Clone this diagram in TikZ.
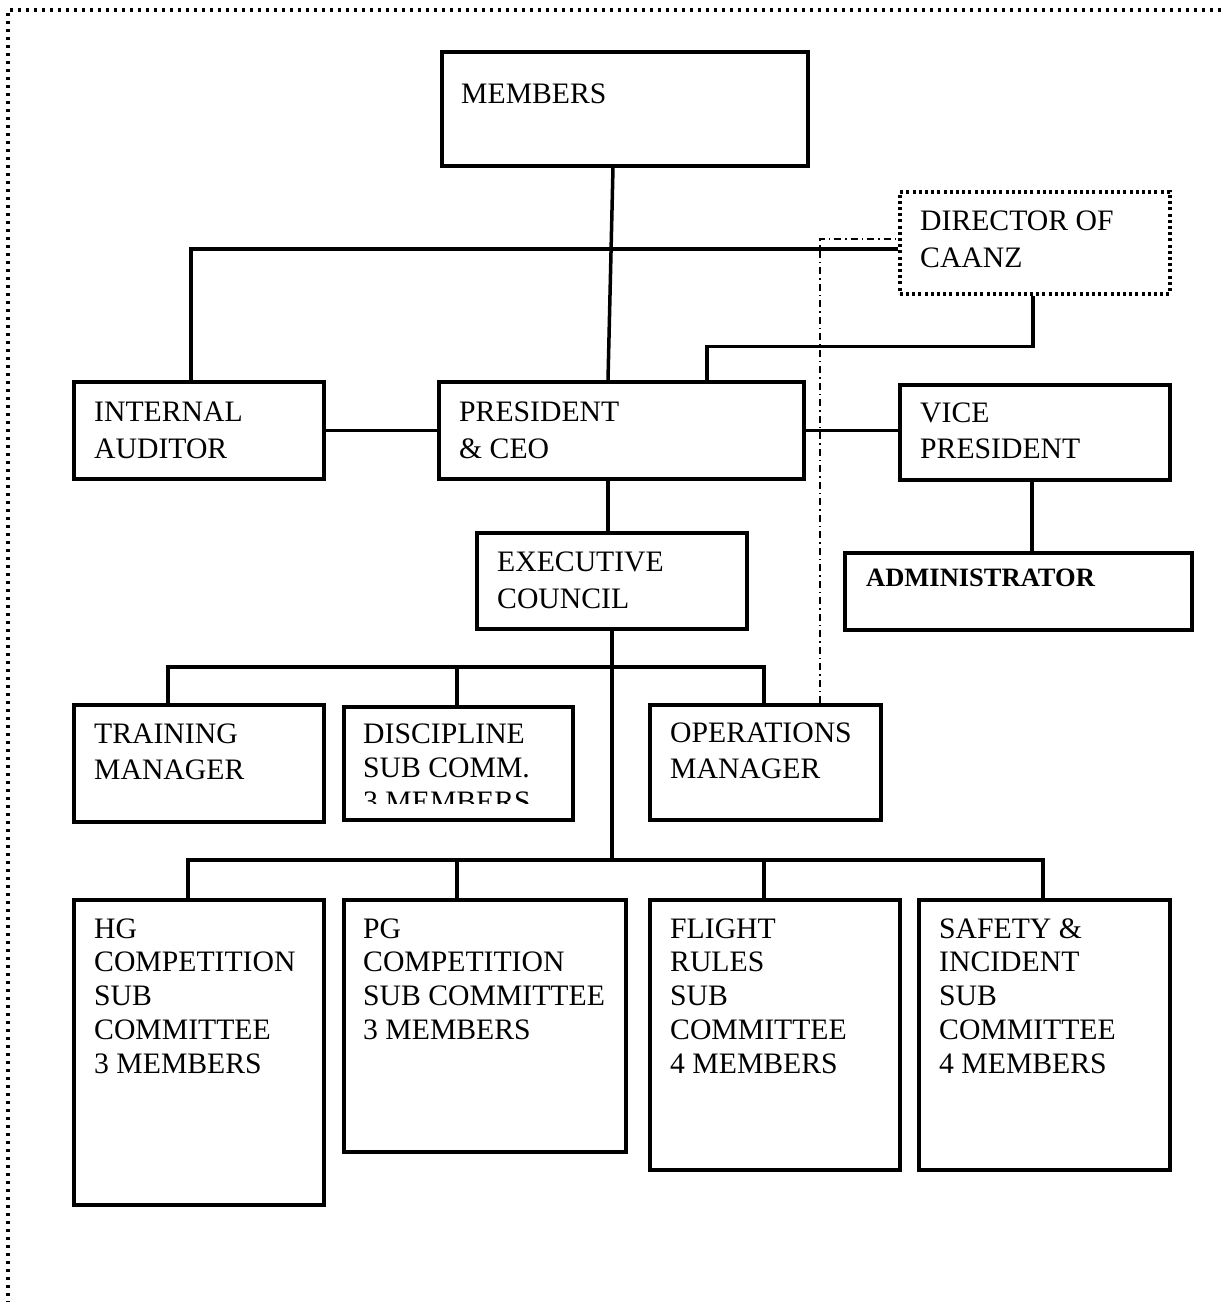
\documentclass[tikz,border=0pt]{standalone}
\usepackage{fontspec}
\setmainfont{Liberation Serif}
\newcommand{\tlines}[2][35pt]{\vtop{\baselineskip=#1\lineskiplimit=-10pt\halign{##\hfil\cr#2\crcr}}}
\begin{document}
\begin{tikzpicture}[x=1pt,y=-1pt,
  box/.style={draw, line width=3.5pt, inner sep=0pt, anchor=north west},
  dotbox/.style={draw, line width=3.5pt, inner sep=0pt, anchor=north west, dash pattern=on 3pt off 3.2pt},
  txt/.style={inner sep=0pt, anchor=base west, font=\fontsize{29.7}{35}\selectfont},
  conn/.style={line width=3.5pt},
  dashdotline/.style={line width=2pt, dash pattern=on 7pt off 4pt on 1.5pt off 4pt},
  pageborder/.style={line width=3.2pt, dash pattern=on 3.2pt off 4.8pt}
]
\useasboundingbox (0,0) rectangle (1221,1302);
\draw[pageborder] (1221,10) -- (8,10) -- (8,1302);

% boxes
\node[box, minimum width=366pt, minimum height=114pt] (members) at (440,50) {};
\node[dotbox, minimum width=270pt, minimum height=102pt] (dir) at (898,190) {};
\node[box, minimum width=250pt, minimum height=97pt] (ia) at (72,380) {};
\node[box, minimum width=365pt, minimum height=97pt] (pres) at (437,380) {};
\node[box, minimum width=270pt, minimum height=95pt] (vp) at (898,383) {};
\node[box, minimum width=347pt, minimum height=77pt] (admin) at (843,551) {};
\node[box, minimum width=270pt, minimum height=96pt] (exec) at (475,531) {};
\node[box, minimum width=250pt, minimum height=117pt] (train) at (72,703) {};
\node[box, minimum width=229pt, minimum height=113pt] (disc) at (342,705) {};
\node[box, minimum width=231pt, minimum height=115pt] (ops) at (648,703) {};
\node[box, minimum width=250pt, minimum height=305pt] (hg) at (72,898) {};
\node[box, minimum width=282pt, minimum height=252pt] (pg) at (342,898) {};
\node[box, minimum width=250pt, minimum height=270pt] (flight) at (648,898) {};
\node[box, minimum width=251pt, minimum height=270pt] (safety) at (917,898) {};

% texts
\node[txt] (members-t) at ([shift={(21,53)}]members.north west) {MEMBERS};
\node[txt] (dir-t) at ([shift={(22,40)}]dir.north west) {\tlines[37pt]{DIRECTOR OF\cr CAANZ}};
\node[txt] (ia-t) at ([shift={(22,41)}]ia.north west) {\tlines[37pt]{INTERNAL\cr AUDITOR}};
\node[txt] (pres-t) at ([shift={(22,41)}]pres.north west) {\tlines[37pt]{PRESIDENT\cr \&~CEO}};
\node[txt] (vp-t) at ([shift={(22,39)}]vp.north west) {\tlines[36pt]{VICE\cr PRESIDENT}};
\node[txt, font=\bfseries\fontsize{26.5}{30}\selectfont] (admin-t) at ([shift={(23,35)}]admin.north west) {ADMINISTRATOR};
\node[txt] (exec-t) at ([shift={(22,40)}]exec.north west) {\tlines[37pt]{EXECUTIVE\cr COUNCIL}};
\node[txt] (train-t) at ([shift={(22,40)}]train.north west) {\tlines[36pt]{TRAINING\cr MANAGER}};
\begin{scope}
\clip (342,705) rectangle (571,803);
\node[txt] (disc-t) at ([shift={(21,38)}]disc.north west) {\tlines[34pt]{DISCIPLINE\cr SUB COMM.\cr 3 MEMBERS}};
\end{scope}
\node[txt] (ops-t) at ([shift={(22,39)}]ops.north west) {\tlines[36pt]{OPERATIONS\cr MANAGER}};
\node[txt] (hg-t) at ([shift={(22,40)}]hg.north west) {\tlines[33.8pt]{HG\cr COMPETITION\cr SUB\cr COMMITTEE\cr 3 MEMBERS}};
\node[txt] (pg-t) at ([shift={(21,40)}]pg.north west) {\tlines[33.8pt]{PG\cr COMPETITION\cr SUB COMMITTEE\cr 3 MEMBERS}};
\node[txt] (flight-t) at ([shift={(22,40)}]flight.north west) {\tlines[33.8pt]{FLIGHT\cr RULES\cr SUB\cr COMMITTEE\cr 4 MEMBERS}};
\node[txt] (safety-t) at ([shift={(22,40)}]safety.north west) {\tlines[33.8pt]{SAFETY \&\cr INCIDENT\cr SUB\cr COMMITTEE\cr 4 MEMBERS}};

% connectors
\draw[conn] ([xshift=173pt]members.south west) -- ([xshift=171pt]pres.north west);
\draw[conn] ([xshift=119pt]ia.north west) |- ([yshift=-6pt]dir.west);
\draw[conn] ([xshift=135pt]dir.south west) -- ++(0,51) -| ([xshift=270pt]pres.north west);
\draw[conn] (ia.east) -- (pres.west);
\draw[conn] (pres.east) -- (pres.east -| vp.west);
\draw[conn] ([xshift=134pt]vp.south west) coordinate (vpd) -- (vpd |- admin.north);
\draw[conn] ([xshift=171pt]pres.south west) coordinate (pd) -- (pd |- exec.north);
\coordinate (j1) at (612,667);
\coordinate (j2) at (612,860);
\draw[conn] ([xshift=137pt]exec.south west) -- (j2);
\draw[conn] ([xshift=96pt]train.north west) |- (j1) -| ([xshift=116pt]ops.north west);
\draw[conn] (j1) -| ([xshift=115pt]disc.north west);
\draw[conn] ([xshift=116pt]hg.north west) |- (j2) -| ([xshift=126pt]safety.north west);
\draw[conn] (j2) -| ([xshift=115pt]pg.north west);
\draw[conn] (j2) -| ([xshift=116pt]flight.north west);
\draw[dashdotline] ([xshift=172pt]ops.north west) |- ([yshift=4pt]dir.west);
\end{tikzpicture}
\end{document}
